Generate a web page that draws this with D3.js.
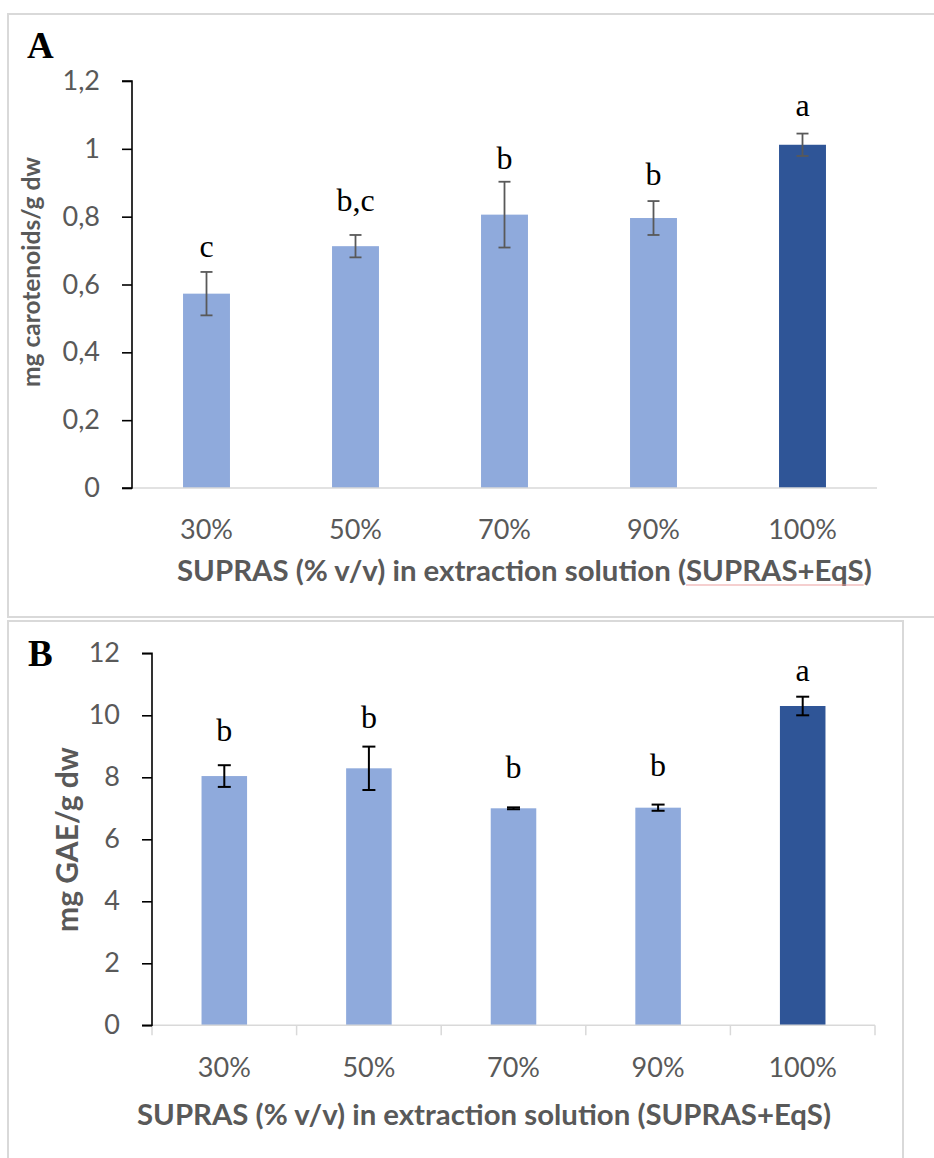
<!DOCTYPE html>
<html>
<head>
<meta charset="utf-8">
<script src="https://cdn.jsdelivr.net/npm/d3@7"></script>
<style>
  html, body { margin: 0; padding: 0; background: #ffffff; }
  svg { display: block; }
</style>
</head>
<body>
<svg id="chart" width="934" height="1158"></svg>
<script>
// ---------- data ----------
const categories = ["30%", "50%", "70%", "90%", "100%"];

const carotenoids = [0.573, 0.713, 0.806, 0.796, 1.012];
const carotenoidsErr = [0.064, 0.033, 0.097, 0.050, 0.033];
const carotenoidsLetters = ["c", "b,c", "b", "b", "a"];
const carotenoidsLetterAt = [0.682, 0.816, 0.942, 0.894, 1.097];
const carotenoidsTicks = [0, 0.2, 0.4, 0.6, 0.8, 1.0, 1.2];
const carotenoidsTickLabels = ["0", "0,2", "0,4", "0,6", "0,8", "1", "1,2"];

const phenolics = [8.04, 8.29, 7.00, 7.02, 10.30];
const phenolicsErr = [0.35, 0.70, 0.03, 0.10, 0.30];
const phenolicsLetters = ["b", "b", "b", "b", "a"];
const phenolicsLetterAt = [9.17, 9.60, 7.97, 8.04, 11.12];
const phenolicsTicks = [0, 2, 4, 6, 8, 10, 12];
const phenolicsTickLabels = ["0", "2", "4", "6", "8", "10", "12"];

const highlight = ["light", "light", "light", "light", "dark"];

const xTitle = "SUPRAS (% v/v) in extraction solution (SUPRAS+EqS)";
const yTitleA = "mg carotenoids/g dw";
const yTitleB = "mg GAE/g  dw";

// ---------- styles ----------
const LIGHT = "#8faadc", DARK = "#2f5597";
const GREY_TEXT = "#595959";
const SANS = "Lato, 'Open Sans', sans-serif";
const SERIF = "'Liberation Serif', 'DejaVu Serif', serif";

const svg = d3.select("#chart");
svg.append("rect").attr("width", 934).attr("height", 1158).attr("fill", "#fff");

function fitText(sel, target) {
  const len = sel.node().getComputedTextLength();
  const fs = parseFloat(sel.attr("font-size"));
  sel.attr("font-size", (fs * target / len).toFixed(2));
}

function panel(cfg) {
  // frame
  svg.append("rect")
    .attr("x", cfg.frame[0]).attr("y", cfg.frame[1])
    .attr("width", cfg.frame[2]).attr("height", cfg.frame[3])
    .attr("fill", "none").attr("stroke", "#d9d9d9").attr("stroke-width", 2);

  const x = d3.scaleBand().domain(categories)
    .range([cfg.left, cfg.right]).paddingInner(0.685).paddingOuter(0.3425);
  const y = d3.scaleLinear().domain([0, cfg.ymax]).range([cfg.bottom, cfg.top]);

  const g = svg.append("g");

  // bars
  g.selectAll("rect.bar").data(cfg.values).join("rect")
    .attr("class", "bar")
    .attr("x", (d, i) => x(categories[i]))
    .attr("width", x.bandwidth())
    .attr("y", d => y(d))
    .attr("height", d => y(0) - y(d))
    .attr("fill", (d, i) => highlight[i] === "dark" ? DARK : LIGHT);

  // x axis line (light grey)
  g.append("line")
    .attr("x1", cfg.left).attr("x2", cfg.right)
    .attr("y1", y(0)).attr("y2", y(0))
    .attr("stroke", "#d9d9d9").attr("stroke-width", 1.5);

  if (cfg.xTicks) {
    const step = x.step();
    const bounds = d3.range(categories.length + 1).map(i => cfg.left + i * step);
    g.selectAll("line.xt").data(bounds).join("line")
      .attr("class", "xt")
      .attr("x1", d => d).attr("x2", d => d)
      .attr("y1", y(0)).attr("y2", y(0) + 10)
      .attr("stroke", "#d9d9d9").attr("stroke-width", 1.5);
  }

  // x tick labels
  g.selectAll("text.xl").data(categories).join("text")
    .attr("class", "xl")
    .attr("x", d => x(d) + x.bandwidth() / 2)
    .attr("y", y(0) + cfg.xLabelOffset)
    .attr("text-anchor", "middle")
    .attr("font-family", SANS).attr("font-size", 27)
    .attr("fill", GREY_TEXT)
    .text(d => d);

  // y axis
  const yAxis = d3.axisLeft(y).tickValues(cfg.ticks)
    .tickFormat((d, i) => cfg.tickLabels[i])
    .tickSize(10).tickPadding(22);
  const ya = g.append("g").attr("transform", `translate(${cfg.left},0)`).call(yAxis);
  ya.select(".domain").attr("stroke", "#000").attr("stroke-width", 1.6)
    .attr("d", `M-10,${y(cfg.ymax)}H0V${y(0)}H-10`);
  ya.selectAll(".tick line").attr("stroke", "#000").attr("stroke-width", 1.6);
  ya.selectAll(".tick text").attr("font-family", SANS).attr("font-size", 27)
    .attr("fill", GREY_TEXT);

  // error bars
  const cap = cfg.cap;
  const eb = g.selectAll("g.err").data(cfg.values).join("g").attr("class", "err")
    .attr("stroke", cfg.errColor).attr("stroke-width", cfg.errWidth);
  eb.append("line")
    .attr("x1", (d, i) => x(categories[i]) + x.bandwidth() / 2)
    .attr("x2", (d, i) => x(categories[i]) + x.bandwidth() / 2)
    .attr("y1", (d, i) => y(d + cfg.errs[i]))
    .attr("y2", (d, i) => y(d - cfg.errs[i]));
  eb.append("line")
    .attr("x1", (d, i) => x(categories[i]) + x.bandwidth() / 2 - cap / 2)
    .attr("x2", (d, i) => x(categories[i]) + x.bandwidth() / 2 + cap / 2)
    .attr("y1", (d, i) => y(d + cfg.errs[i]))
    .attr("y2", (d, i) => y(d + cfg.errs[i]));
  eb.append("line")
    .attr("x1", (d, i) => x(categories[i]) + x.bandwidth() / 2 - cap / 2)
    .attr("x2", (d, i) => x(categories[i]) + x.bandwidth() / 2 + cap / 2)
    .attr("y1", (d, i) => y(d - cfg.errs[i]))
    .attr("y2", (d, i) => y(d - cfg.errs[i]));

  // significance letters
  g.selectAll("text.letter").data(cfg.letters).join("text")
    .attr("class", "letter")
    .attr("x", (d, i) => x(categories[i]) + x.bandwidth() / 2)
    .attr("y", (d, i) => y(cfg.letterAt[i]))
    .attr("text-anchor", "middle")
    .attr("font-family", SERIF).attr("font-size", 32)
    .attr("fill", "#000")
    .text(d => d);

  // panel letter
  svg.append("text")
    .attr("x", cfg.tag[0]).attr("y", cfg.tag[1])
    .attr("font-family", SERIF).attr("font-weight", "bold").attr("font-size", 37)
    .attr("fill", "#000").text(cfg.tagText);

  // x title
  const xt = svg.append("text")
    .attr("x", cfg.xTitle[0]).attr("y", cfg.xTitle[1])
    .attr("font-family", SANS).attr("font-weight", "bold").attr("font-size", 25)
    .attr("fill", GREY_TEXT).text(xTitle);
  fitText(xt, cfg.xTitle[2]);
  if (cfg.underline) {
    const start = xTitle.lastIndexOf("SUPRAS+EqS");
    const node = xt.node();
    const x0 = cfg.xTitle[0] + node.getSubStringLength(0, start);
    const w = node.getSubStringLength(start, "SUPRAS+EqS".length);
    svg.append("line")
      .attr("x1", x0).attr("x2", x0 + w)
      .attr("y1", cfg.xTitle[1] + 4).attr("y2", cfg.xTitle[1] + 4)
      .attr("stroke", "#eba0a0").attr("stroke-width", 1.2);
  }

  // y title
  const yt = svg.append("text")
    .attr("transform", `translate(${cfg.yTitle[0]},${cfg.yTitle[1]}) rotate(-90)`)
    .attr("font-family", SANS).attr("font-weight", "bold").attr("font-size", 22)
    .attr("fill", GREY_TEXT).text(cfg.yTitleText);
  fitText(yt, cfg.yTitle[2]);
}

panel({
  frame: [8, 14, 950, 603],
  left: 132, right: 877, top: 81, bottom: 488, ymax: 1.2,
  values: carotenoids, errs: carotenoidsErr,
  letters: carotenoidsLetters, letterAt: carotenoidsLetterAt,
  ticks: carotenoidsTicks, tickLabels: carotenoidsTickLabels,
  errColor: "#595959", errWidth: 1.8, cap: 12,
  xTicks: false, xLabelOffset: 51,
  tag: [27, 58], tagText: "A",
  xTitle: [177, 581, 695], underline: true,
  yTitle: [40, 387, 230], yTitleText: yTitleA
});

panel({
  frame: [8, 621, 895, 560],
  left: 152, right: 875, top: 653.3, bottom: 1025.3, ymax: 12,
  values: phenolics, errs: phenolicsErr,
  letters: phenolicsLetters, letterAt: phenolicsLetterAt,
  ticks: phenolicsTicks, tickLabels: phenolicsTickLabels,
  errColor: "#000", errWidth: 2, cap: 13,
  xTicks: true, xLabelOffset: 52,
  tag: [28, 666], tagText: "B",
  xTitle: [137, 1125, 694], underline: false,
  yTitle: [78, 932, 185], yTitleText: yTitleB
});
</script>
</body>
</html>
